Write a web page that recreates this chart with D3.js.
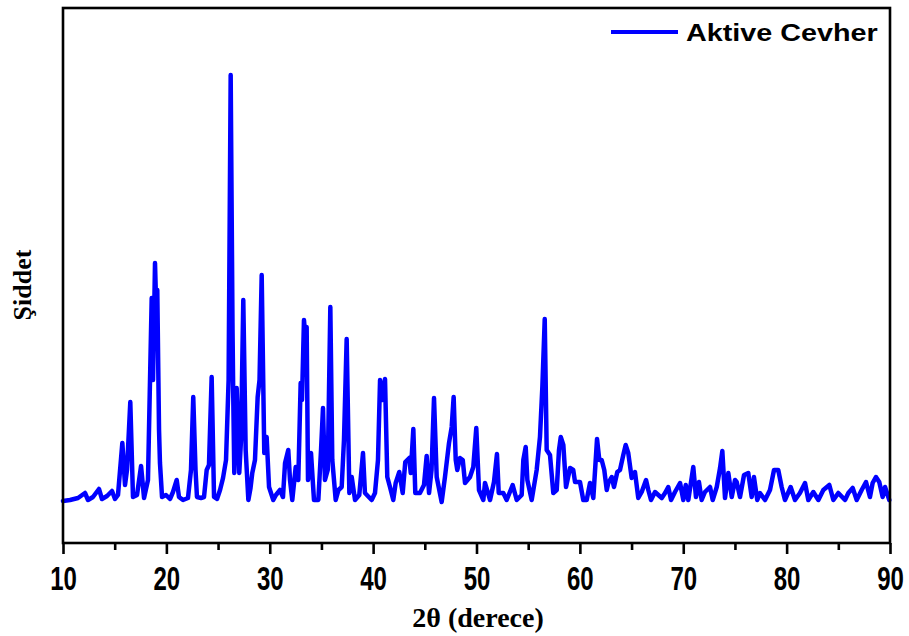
<!DOCTYPE html>
<html><head><meta charset="utf-8">
<script src="https://cdn.jsdelivr.net/npm/d3@7/dist/d3.min.js"></script>
<style>html,body{margin:0;padding:0;background:#fff;}svg{display:block;}</style>
</head><body>
<svg id="chart" width="909" height="636"></svg>
<script>
// 2θ (degrees) and intensity (a.u.)
const twoTheta = [10.00,10.68,11.45,12.13,12.42,12.90,13.48,13.77,14.26,14.74,15.03,15.32,15.74,16.00,16.19,16.51,16.77,17.16,17.55,17.84,18.22,18.58,18.71,18.90,19.05,19.12,19.29,19.38,19.58,19.96,20.35,20.64,21.00,21.22,21.61,22.09,22.38,22.60,22.82,22.96,23.35,23.64,23.90,24.12,24.38,24.61,24.90,25.19,25.48,25.77,26.02,26.22,26.40,26.47,26.57,26.80,26.93,27.05,27.22,27.44,27.67,27.93,28.14,28.31,28.57,28.83,29.01,29.22,29.47,29.70,29.93,30.34,30.60,30.99,31.28,31.48,31.79,31.96,32.18,32.51,32.76,32.99,33.12,33.31,33.46,33.57,33.70,33.99,34.28,34.70,34.96,35.15,35.34,35.61,35.86,36.05,36.38,36.65,36.96,37.18,37.44,37.70,37.93,38.25,38.66,39.02,39.21,39.86,40.18,40.47,40.67,40.91,41.15,41.37,41.63,41.95,42.18,42.53,42.86,43.11,43.50,43.64,43.89,44.08,44.53,44.92,45.18,45.41,45.65,45.89,46.15,46.63,46.95,47.34,47.60,47.79,47.99,48.14,48.40,48.67,48.89,49.37,49.69,49.98,50.24,50.66,50.82,51.31,51.69,51.98,52.15,52.59,52.92,53.50,53.89,54.37,54.53,54.76,54.92,55.34,55.82,56.14,56.37,56.60,56.79,57.11,57.43,57.76,57.98,58.15,58.40,58.66,59.05,59.36,59.53,60.01,60.33,60.66,60.98,61.30,61.66,61.88,62.11,62.36,62.60,62.75,63.08,63.30,63.62,63.88,64.20,64.43,64.68,65.01,65.33,65.65,65.98,66.40,66.62,66.88,67.27,67.59,67.92,68.24,68.55,68.82,69.20,69.69,70.01,70.24,70.49,70.97,71.23,71.52,71.78,72.10,72.59,72.85,73.24,73.56,73.78,74.04,74.36,74.69,75.01,75.17,75.49,75.88,76.29,76.62,76.84,77.16,77.42,77.91,78.39,78.78,79.19,79.52,79.84,80.39,80.81,81.29,81.78,82.10,82.58,83.07,83.55,84.13,84.52,85.00,85.65,85.97,86.39,86.78,87.26,87.68,88.06,88.32,88.64,88.96,89.29,89.52,89.93];
const intensity = [84,86,90,100,86,92,108,88,94,104,88,96,200,116,146,282,92,96,154,90,126,490,326,560,446,506,226,160,92,96,88,102,126,92,86,90,146,292,146,92,90,92,146,156,332,92,88,106,130,166,326,936,426,292,140,310,226,140,206,486,186,86,110,140,166,292,326,536,180,212,112,86,96,106,92,160,186,126,86,152,126,320,286,446,406,432,126,180,86,86,186,270,126,146,472,166,86,106,112,206,408,100,132,86,96,180,100,86,100,166,326,286,328,132,112,86,120,142,100,162,170,140,228,100,100,116,174,100,146,290,132,82,132,200,232,292,166,146,170,166,120,132,152,230,106,86,120,86,122,178,100,100,86,116,86,96,166,192,126,86,146,212,312,448,186,176,100,106,186,212,196,112,150,146,122,122,86,86,120,90,208,166,166,146,106,120,132,112,142,146,176,196,180,130,142,90,102,126,106,86,102,96,90,100,112,86,102,120,86,116,86,152,92,122,86,102,112,86,112,150,184,90,140,92,126,122,92,136,140,92,132,86,100,86,106,146,146,112,86,112,86,100,120,86,102,86,106,116,86,100,86,100,110,86,106,122,92,120,132,122,92,112,86];
const xTicks = [10,20,30,40,50,60,70,80,90];
const xMinorTicks = [15,25,35,45,55,65,75,85];
const seriesName = "Aktive Cevher";
const xTitle = "2θ (derece)";
const yTitle = "Şiddet";

const svg = d3.select("#chart");
const L = 63, R = 890, T = 8, B = 543;
const x = d3.scaleLinear().domain([10, 90]).range([L, R]);
const y = d3.scaleLinear().domain([0, 1070]).range([B, T]);
const data = twoTheta.map((t, i) => ({t, v: intensity[i]}));

// series line
const line = d3.line().x(d => x(d.t)).y(d => y(d.v));
svg.append("path").datum(data).attr("d", line)
  .attr("fill", "none").attr("stroke", "#0000ff").attr("stroke-width", 4.5)
  .attr("stroke-linejoin", "round").attr("stroke-linecap", "round");

// frame
svg.append("rect").attr("x", L).attr("y", T).attr("width", R - L).attr("height", B - T)
  .attr("fill", "none").attr("stroke", "#000").attr("stroke-width", 2.6);

// bottom axis
const ax = svg.append("g").attr("transform", `translate(0,${B})`);
ax.append("g").call(d3.axisBottom(x).tickValues(xMinorTicks).tickSize(7).tickFormat(""))
  .call(g => g.select(".domain").remove())
  .selectAll("line").attr("stroke", "#000").attr("stroke-width", 2.6);
const major = ax.append("g").call(d3.axisBottom(x).tickValues(xTicks).tickSize(11).tickFormat(d3.format("d")));
major.select(".domain").remove();
major.selectAll("line").attr("stroke", "#000").attr("stroke-width", 2.6);
major.selectAll("text").attr("y", 0).attr("dy", 0)
  .attr("transform", "translate(0,47) scale(1,1.38)")
  .attr("font-family", "'Liberation Sans', Arial, sans-serif")
  .attr("font-weight", "bold").attr("font-size", 24).attr("fill", "#000");

// axis titles
svg.append("text").attr("x", 478).attr("y", 627).attr("text-anchor", "middle")
  .attr("font-family", "'Liberation Serif', 'Times New Roman', serif").attr("font-weight", "bold")
  .attr("font-size", 28).text(xTitle);
svg.append("text").attr("transform", "translate(31,285) rotate(-90)").attr("text-anchor", "middle")
  .attr("font-family", "'Liberation Serif', 'Times New Roman', serif").attr("font-weight", "bold")
  .attr("font-size", 26).text(yTitle);

// legend
svg.append("line").attr("x1", 611).attr("x2", 678).attr("y1", 32).attr("y2", 32)
  .attr("stroke", "#0000ff").attr("stroke-width", 4);
svg.append("text").attr("transform", "translate(686,41) scale(1.25,1)")
  .attr("font-family", "'Liberation Sans', Arial, sans-serif").attr("font-weight", "bold")
  .attr("font-size", 23).attr("fill", "#000").text(seriesName);
</script>
</body></html>
